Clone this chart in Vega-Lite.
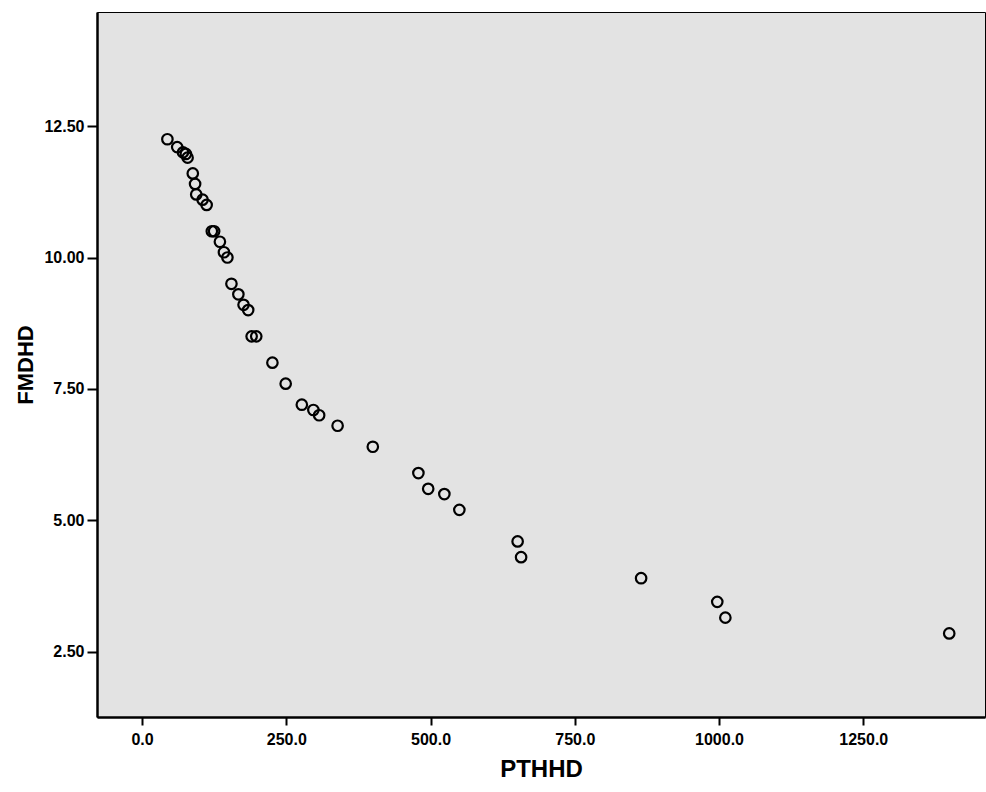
{
  "$schema": "https://vega.github.io/schema/vega-lite/v6.json",
  "autosize": "none",
  "width": 888,
  "height": 705,
  "padding": {"left": 97, "top": 12, "right": 1, "bottom": 75},
  "background": "white",
  "config": {
    "view": {"fill": "#e3e3e3", "stroke": "black", "strokeWidth": 1},
    "font": "Liberation Sans"
  },
  "data": {
    "values": [
      {"PTHHD": 44, "FMDHD": 12.25},
      {"PTHHD": 61, "FMDHD": 12.1},
      {"PTHHD": 71, "FMDHD": 12.0},
      {"PTHHD": 76, "FMDHD": 11.97},
      {"PTHHD": 79, "FMDHD": 11.9},
      {"PTHHD": 88, "FMDHD": 11.6},
      {"PTHHD": 92, "FMDHD": 11.4},
      {"PTHHD": 94, "FMDHD": 11.2},
      {"PTHHD": 105, "FMDHD": 11.1},
      {"PTHHD": 112, "FMDHD": 11.0},
      {"PTHHD": 121, "FMDHD": 10.5},
      {"PTHHD": 125, "FMDHD": 10.5},
      {"PTHHD": 135, "FMDHD": 10.3},
      {"PTHHD": 142, "FMDHD": 10.1},
      {"PTHHD": 148, "FMDHD": 10.0},
      {"PTHHD": 155, "FMDHD": 9.5},
      {"PTHHD": 167, "FMDHD": 9.3},
      {"PTHHD": 176, "FMDHD": 9.1},
      {"PTHHD": 184, "FMDHD": 9.0},
      {"PTHHD": 190, "FMDHD": 8.5},
      {"PTHHD": 198, "FMDHD": 8.5},
      {"PTHHD": 226, "FMDHD": 8.0},
      {"PTHHD": 249, "FMDHD": 7.6},
      {"PTHHD": 277, "FMDHD": 7.2},
      {"PTHHD": 297, "FMDHD": 7.1},
      {"PTHHD": 307, "FMDHD": 7.0},
      {"PTHHD": 339, "FMDHD": 6.8},
      {"PTHHD": 400, "FMDHD": 6.4},
      {"PTHHD": 479, "FMDHD": 5.9},
      {"PTHHD": 496, "FMDHD": 5.6},
      {"PTHHD": 524, "FMDHD": 5.5},
      {"PTHHD": 550, "FMDHD": 5.2},
      {"PTHHD": 651, "FMDHD": 4.6},
      {"PTHHD": 657, "FMDHD": 4.3},
      {"PTHHD": 865, "FMDHD": 3.9},
      {"PTHHD": 997, "FMDHD": 3.45},
      {"PTHHD": 1011, "FMDHD": 3.15},
      {"PTHHD": 1399, "FMDHD": 2.85}
    ]
  },
  "mark": {"type": "point", "shape": "circle", "filled": false, "size": 110, "strokeWidth": 2.2, "stroke": "black", "opacity": 1},
  "encoding": {
    "x": {
      "field": "PTHHD", "type": "quantitative",
      "scale": {"domain": [-78, 1461], "nice": false, "zero": false},
      "axis": {
        "title": "PTHHD", "values": [0, 250, 500, 750, 1000, 1250], "format": ".1f",
        "grid": false, "domainColor": "black", "domainWidth": 2.5,
        "tickColor": "black", "tickWidth": 2, "tickSize": 8,
        "labelFont": "Liberation Sans", "labelFontSize": 16, "labelFontWeight": "bold", "labelColor": "black", "labelPadding": 6,
        "titleFont": "Liberation Sans", "titleFontSize": 24, "titleFontWeight": "bold", "titleColor": "black", "titlePadding": 10
      }
    },
    "y": {
      "field": "FMDHD", "type": "quantitative",
      "scale": {"domain": [1.26, 14.67], "nice": false, "zero": false},
      "axis": {
        "title": "FMDHD", "values": [2.5, 5, 7.5, 10, 12.5], "format": ".2f",
        "grid": false, "domainColor": "black", "domainWidth": 2.5,
        "tickColor": "black", "tickWidth": 2, "tickSize": 10,
        "labelFont": "Liberation Sans", "labelFontSize": 16, "labelFontWeight": "bold", "labelColor": "black", "labelPadding": 3,
        "titleFont": "Liberation Sans", "titleFontSize": 22, "titleFontWeight": "bold", "titleColor": "black", "titlePadding": 6
      }
    }
  }
}
